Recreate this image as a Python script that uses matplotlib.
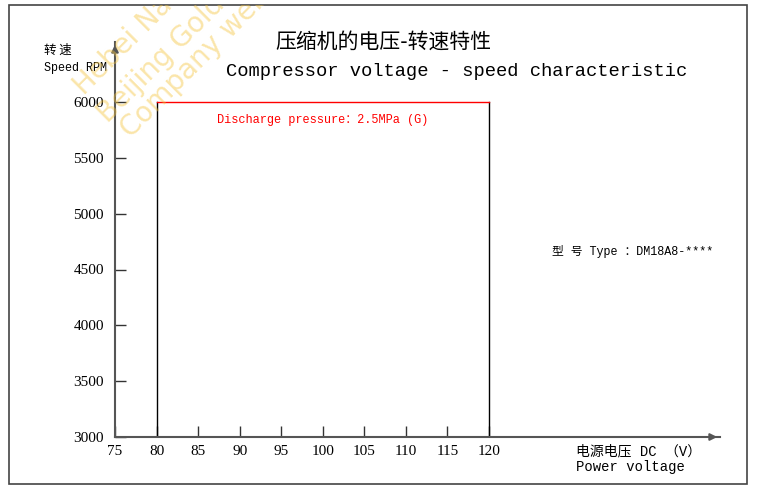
import matplotlib
matplotlib.use("Agg")
import matplotlib.pyplot as plt
from matplotlib.patches import Rectangle

x_ticks = [75, 80, 85, 90, 95, 100, 105, 110, 115, 120]
y_ticks = [3000, 3500, 4000, 4500, 5000, 5500, 6000]
env_x = [80, 120]
env_y = [3000, 6000]

W, H = 758, 493
fig = plt.figure(figsize=(W/100, H/100), dpi=100)
L, R, T, B = 115, 720, 42, 437
ax = fig.add_axes([L/W, (H-B)/H, (R-L)/W, (B-T)/H])
ax.set_xlim(75, 75 + (R-L)/(374/45))
ax.set_ylim(3000, 3000 + (B-T)/(335/3000))
for s in ['top', 'right']:
    ax.spines[s].set_visible(False)
for s in ['left', 'bottom']:
    ax.spines[s].set_color('#555555')
    ax.spines[s].set_linewidth(1.5)
ax.patch.set_alpha(0)
serif = ['Liberation Serif', 'Noto Sans CJK SC']
ax.set_xticks(x_ticks)
ax.set_yticks(y_ticks)
ax.set_xticklabels([str(v) for v in x_ticks], family=serif, fontsize=11)
ax.set_yticklabels([str(v) for v in y_ticks], family=serif, fontsize=11)
ax.tick_params(axis='x', direction='in', length=8, width=1, color='#333333', pad=6)
ax.tick_params(axis='y', direction='in', length=8, width=1, color='#333333', pad=8)
ax.annotate('', xy=(1.0, 0), xycoords='axes fraction', xytext=(0.98, 0),
            arrowprops=dict(arrowstyle='-|>', color='#555555', lw=1.5))
ax.annotate('', xy=(0, 1.0), xycoords='axes fraction', xytext=(0, 0.97),
            arrowprops=dict(arrowstyle='-|>', color='#555555', lw=1.5))

ax.plot([env_x[0], env_x[0]], env_y, color='black', lw=1)
ax.plot([env_x[1], env_x[1]], env_y, color='black', lw=1)
ax.plot(env_x, [env_y[1], env_y[1]], color='red', lw=1)
mono = ['Liberation Mono', 'Noto Sans CJK SC']
ax.text(100, 5835, 'Discharge pressure：2.5MPa (G)', color='red', ha='center', va='center',
        family=mono, fontsize=8.6)

fig.text(383/W, 1-42/H, '压缩机的电压-转速特性', ha='center', va='center', family='Noto Sans CJK SC', fontsize=15)
fig.text(457/W, 1-72/H, 'Compressor voltage - speed characteristic', ha='center', va='center', family=mono, fontsize=13.5)
fig.text(44/W, 1-50/H, '转 速', ha='left', va='center', family='Noto Sans CJK SC', fontsize=9)
fig.text(44/W, 1-68/H, 'Speed RPM', ha='left', va='center', family=mono, fontsize=8.5)
fig.text(552/W, 1-252/H, '型 号 Type ：DM18A8-****', ha='left', va='center', family=mono, fontsize=8.5)
fig.text(576/W, 1-451/H, '电源电压 DC （V）', ha='left', va='center', family=mono, fontsize=10)
fig.text(576/W, 1-467/H, 'Power voltage', ha='left', va='center', family=mono, fontsize=10)

border = Rectangle((9/W, 1-484/H), 738/W, 479/H, transform=fig.transFigure,
                   fill=False, edgecolor='#444444', lw=1.2)
fig.patches.append(border)
for txt, x0, y0 in [('Hebei Nan', 88, 100), ('Beijing Golde', 112, 128), ('Company webs', 135, 143)]:
    t = fig.text(x0/W, 1-y0/H, txt, rotation=45, color='#f5c542', alpha=0.45, fontsize=20,
                 family='DejaVu Sans', ha='left', va='bottom', rotation_mode='anchor')
    t.set_clip_path(border)

fig.savefig('out.png', dpi=100)
